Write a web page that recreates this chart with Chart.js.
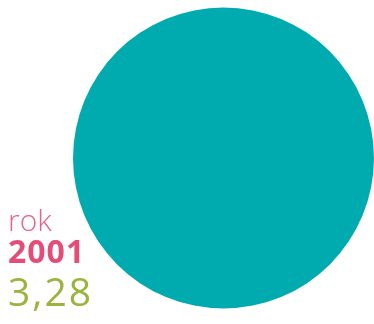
<!DOCTYPE html>
<html>
<head>
<meta charset="utf-8">
<script src="https://cdn.jsdelivr.net/npm/chart.js@4"></script>
<style>
  html, body { margin: 0; padding: 0; background: #fff; }
  #wrap { position: relative; width: 374px; height: 324px; overflow: hidden; }
  #chart { position: absolute; left: 0; top: 0; }
  .lbl { position: absolute; left: 8px; font-family: "Open Sans", "Noto Sans", sans-serif; white-space: nowrap; line-height: 1; }
  #rok { top: 205px; font-size: 30px; font-weight: 300; color: #e8628a; }
  #year { top: 235px; font-size: 32px; font-weight: 700; color: #e44d78; letter-spacing: 1px; }
  #val { top: 271px; font-size: 39px; font-weight: 400; color: #9bb43e; letter-spacing: 2px; }
</style>
</head>
<body>
<div id="wrap">
  <canvas id="chart" width="374" height="324"></canvas>
  <div class="lbl" id="rok"></div>
  <div class="lbl" id="year"></div>
  <div class="lbl" id="val"></div>
</div>
<script>
const labelWord = 'rok';
const years = ['2001'];
const values = [3.28];
const colors = ['#00abb0'];

document.getElementById('rok').textContent = labelWord;
document.getElementById('year').textContent = years[0];
document.getElementById('val').textContent = values[0].toFixed(2).replace('.', ',');

const ctx = document.getElementById('chart').getContext('2d');
new Chart(ctx, {
    type: 'pie',
    data: {
        labels: years,
        datasets: [
            {
                data: values,
                backgroundColor: colors,
                borderWidth: 0
            }
        ]
    },
    options: {
        responsive: false,
        animation: false,
        layout: {
            padding: { left: 73, right: 0, top: 7, bottom: 15 }
        },
        plugins: {
            legend: { display: false },
            tooltip: { enabled: false }
        }
    }
});
</script>
</body>
</html>
